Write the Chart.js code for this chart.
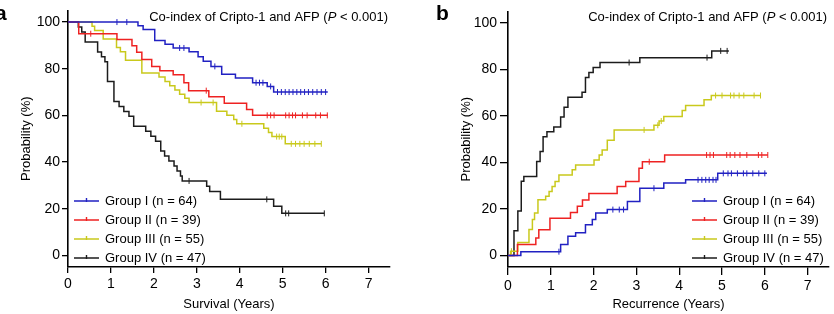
<!DOCTYPE html>
<html>
<head>
<meta charset="utf-8">
<script src="https://cdn.jsdelivr.net/npm/chart.js@4.4.1/dist/chart.umd.min.js"></script>
<style>
  html, body { margin: 0; padding: 0; background: #fff; overflow: hidden; }
  #wrap { position: relative; width: 834px; height: 314px; }
  canvas { position: absolute; top: 0; }
</style>
</head>
<body>
<div id="wrap">
  <canvas id="survA" width="414" height="314" style="left:0"></canvas>
  <canvas id="recurB" width="420" height="314" style="left:414px"></canvas>
</div>
<script>
// Kaplan-Meier curves, co-index of Cripto-1 and AFP
const FONT = '"Liberation Sans", Arial, sans-serif';

const groupLabels = ['Group I (n = 64)', 'Group II (n = 39)', 'Group III (n = 55)', 'Group IV (n = 47)'];
const groupColors = ['#2121c2', '#ee2222', '#c9c91c', '#1c1c1c'];
const xTicks = [0, 1, 2, 3, 4, 5, 6, 7];
const yTicks = [0, 20, 40, 60, 80, 100];

// panel a: overall survival, time of each step (years) and probability after it (%)
const survTimeI = [0, 1.63, 1.75, 2.02, 2.26, 2.45, 2.82, 3.03, 3.15, 3.33, 3.58, 3.9, 4.3, 4.64, 4.79, 6.05];
const survProbI = [100, 98.4, 96.8, 92.1, 90.5, 88.9, 87.3, 85.1, 83.2, 81.0, 77.6, 76.0, 74.0, 72.4, 70.0, 70.0];
const survCensI = [1.14, 1.37, 2.6, 2.7, 3.42, 4.38, 4.46, 4.54, 4.72, 4.88, 4.97, 5.06, 5.15, 5.24, 5.33, 5.42, 5.51, 5.6, 5.7, 5.8, 5.9, 6.0];

const survTimeII = [0, 0.25, 1.14, 1.49, 1.6, 1.72, 1.95, 2.14, 2.45, 2.7, 2.81, 3.28, 3.64, 4.16, 4.3, 6.05];
const survProbII = [100, 95.0, 92.5, 89.8, 87.1, 84.0, 81.0, 79.1, 77.4, 74.0, 70.6, 68.0, 65.2, 62.5, 60.0, 60.0];
const survCensII = [0.53, 3.22, 4.64, 4.72, 4.8, 5.07, 5.15, 5.23, 5.3, 5.46, 5.57, 5.77, 5.88, 6.04];

const survTimeIII = [0, 0.56, 0.62, 0.82, 1.13, 1.22, 1.34, 1.72, 2.12, 2.26, 2.37, 2.49, 2.6, 2.72, 2.82, 3.46, 3.7, 3.86, 3.93, 4.56, 4.67, 4.75, 5.06, 5.9];
const survProbIII = [100, 98.2, 96.4, 92.7, 89.1, 87.3, 83.6, 78.2, 76.4, 74.5, 72.7, 70.9, 69.1, 67.3, 65.5, 61.8, 60.0, 58.2, 56.4, 54.5, 52.7, 50.9, 47.8, 47.8];
const survCensIII = [3.1, 3.38, 4.05, 4.86, 4.92, 4.98, 5.2, 5.3, 5.4, 5.5, 5.62, 5.75, 5.9];

const survTimeIV = [0, 0.24, 0.32, 0.4, 0.69, 0.78, 0.86, 0.92, 1.07, 1.19, 1.3, 1.42, 1.53, 1.81, 1.93, 2.04, 2.16, 2.25, 2.35, 2.47, 2.54, 2.62, 2.66, 3.23, 3.3, 3.55, 4.79, 4.98, 5.97];
const survProbIV = [100, 97.9, 95.7, 91.5, 87.2, 85.1, 83.0, 74.5, 66.0, 63.8, 61.7, 59.6, 55.3, 53.2, 51.1, 48.9, 44.7, 42.6, 40.4, 38.3, 36.2, 34.0, 31.9, 29.6, 27.4, 24.0, 21.0, 18.0, 18.0];
const survCensIV = [2.82, 4.63, 5.07, 5.14, 5.97];

// panel b: cumulative recurrence
const recTimeI = [0, 0.3, 1.23, 1.4, 1.58, 1.81, 1.97, 2.05, 2.32, 2.79, 3.08, 3.64, 4.15, 4.9, 6.05];
const recProbI = [0, 1.6, 4.7, 8.2, 9.7, 13.2, 15.4, 18.2, 19.7, 23.2, 28.9, 31.1, 32.5, 35.3, 35.3];
const recCensI = [1.19, 2.45, 2.6, 2.7, 3.41, 4.44, 4.53, 4.62, 4.7, 4.79, 4.86, 5.03, 5.14, 5.22, 5.36, 5.5, 5.58, 5.72, 5.86, 6.0];

const recTimeII = [0, 0.22, 0.65, 0.72, 0.98, 1.46, 1.62, 1.74, 1.89, 2.55, 2.75, 3.06, 3.14, 3.66, 6.07];
const recProbII = [0, 4.7, 7.5, 11.0, 16.0, 18.5, 21.1, 23.8, 26.6, 29.6, 31.8, 37.5, 40.3, 43.2, 43.2];
const recCensII = [3.3, 4.64, 4.72, 4.8, 5.11, 5.19, 5.3, 5.42, 5.58, 5.85, 5.93, 6.07];

const recTimeIII = [0, 0.06, 0.23, 0.49, 0.57, 0.62, 0.7, 0.88, 0.96, 1.03, 1.1, 1.19, 1.5, 1.58, 2.01, 2.13, 2.2, 2.32, 2.48, 3.41, 3.53, 3.64, 4.07, 4.15, 4.58, 4.75, 5.9];
const recProbIII = [0, 1.8, 5.5, 11.1, 15.4, 18.2, 23.9, 25.5, 27.5, 29.6, 31.8, 34.6, 36.8, 38.9, 41.0, 43.2, 45.3, 49.6, 54.0, 56.0, 57.8, 59.8, 62.4, 64.5, 67.0, 68.8, 68.8];
const recCensIII = [0.08, 3.18, 3.5, 3.58, 4.85, 5.0, 5.2, 5.28, 5.4, 5.51, 5.75, 5.9];

const recTimeIV = [0, 0.14, 0.23, 0.31, 0.37, 0.67, 0.75, 0.82, 0.91, 1.07, 1.23, 1.31, 1.4, 1.73, 1.81, 1.89, 1.99, 2.15, 3.08, 4.76, 5.16];
const recProbIV = [0, 10.6, 19.1, 31.9, 34.0, 40.4, 44.7, 51.1, 53.2, 55.3, 59.6, 63.8, 68.1, 70.2, 76.6, 78.7, 80.9, 83.0, 85.1, 88.0, 88.0];
const recCensIV = [2.83, 4.65, 4.97, 5.12];

function stepPoints(times, probs) {
  return times.map((t, i) => ({ x: t, y: probs[i] }));
}

// censor marks sit on the curve value in force at that time
function censorPoints(times, probs, cens) {
  return cens.map((c) => {
    let y = probs[0];
    times.forEach((t, i) => { if (t <= c) y = probs[i]; });
    return { x: c, y: y };
  });
}

function buildDatasets(groups) {
  const out = [];
  groups.forEach((g, i) => {
    out.push({
      data: stepPoints(g[0], g[1]),
      showLine: true,
      stepped: true,
      borderColor: groupColors[i],
      borderWidth: 1.5,
      pointRadius: 0,
      fill: false,
    });
    out.push({
      data: censorPoints(g[0], g[1], g[2]),
      showLine: false,
      pointStyle: 'line',
      rotation: 90,
      pointRadius: 3,
      pointBorderWidth: 1,
      pointBorderColor: groupColors[i],
      borderColor: groupColors[i],
    });
  });
  return out;
}

const titleParts = [['Co-index of Cripto-1 and AFP (', false], ['P', true], [' < 0.001)', false]];

const decorPlugin = {
  id: 'decor',
  afterDraw(chart, args, o) {
    const ctx = chart.ctx;
    const area = chart.chartArea;
    ctx.save();
    ctx.fillStyle = '#000';
    ctx.textBaseline = 'alphabetic';
    ctx.textAlign = 'left';
    ctx.font = 'bold 21px ' + FONT;
    ctx.fillText(o.letter, o.letterX, 20);

    // title, with italic P
    let total = 0;
    titleParts.forEach((p) => {
      ctx.font = (p[1] ? 'italic ' : '') + '13px ' + FONT;
      total += ctx.measureText(p[0]).width;
    });
    let x = area.right - 2 - total;
    titleParts.forEach((p) => {
      ctx.font = (p[1] ? 'italic ' : '') + '13px ' + FONT;
      ctx.fillText(p[0], x, 21);
      x += ctx.measureText(p[0]).width;
    });

    // legend
    ctx.font = '13px ' + FONT;
    ctx.textBaseline = 'middle';
    groupLabels.forEach((label, i) => {
      const y = o.legendY + i * 19;
      ctx.strokeStyle = groupColors[i];
      ctx.lineWidth = 1.4;
      ctx.beginPath();
      ctx.moveTo(o.legendX, y);
      ctx.lineTo(o.legendX + 25, y);
      ctx.moveTo(o.legendX + 12.5, y - 3);
      ctx.lineTo(o.legendX + 12.5, y + 1);
      ctx.stroke();
      ctx.fillStyle = '#000';
      ctx.fillText(label, o.legendX + 31, y);
    });
    ctx.restore();
  },
};

function makeChart(id, groups, cfg) {
  const tickFont = { family: FONT, size: 14 };
  return new Chart(document.getElementById(id), {
    type: 'scatter',
    data: { datasets: buildDatasets(groups) },
    options: {
      responsive: false,
      animation: false,
      layout: { padding: { left: 0, right: cfg.padRight, top: 10, bottom: 0 } },
      plugins: {
        legend: { display: false },
        tooltip: { enabled: false },
        decor: { letter: cfg.letter, letterX: cfg.letterX, legendX: cfg.legendX, legendY: 201 },
      },
      scales: {
        x: {
          type: 'linear',
          min: 0,
          max: 7.5,
          afterBuildTicks: (s) => { s.ticks = xTicks.map((v) => ({ value: v })); },
          afterFit: (s) => { s.height = 47; },
          grid: { drawOnChartArea: false, drawTicks: true, tickLength: cfg.tickLen, color: '#000', lineWidth: 1.3 },
          border: { color: '#000', width: 1.6 },
          ticks: { color: '#000', font: tickFont, padding: 3, maxRotation: 0, autoSkip: false },
          title: { display: true, text: cfg.xTitle, color: '#000', font: { family: FONT, size: 13 }, padding: { top: 0, bottom: 2 } },
        },
        y: {
          type: 'linear',
          min: -5,
          max: 105,
          afterBuildTicks: (s) => { s.ticks = yTicks.map((v) => ({ value: v })); },
          afterFit: (s) => { s.width = cfg.yWidth; },
          grid: { drawOnChartArea: false, drawTicks: true, tickLength: cfg.tickLen, color: '#000', lineWidth: 1.3 },
          border: { color: '#000', width: 1.6 },
          ticks: { color: '#000', font: tickFont, padding: cfg.yPad },
          title: { display: true, text: 'Probability (%)', color: '#000', font: { family: FONT, size: 13 }, padding: { top: cfg.yTitlePad, bottom: 0 } },
        },
      },
    },
    plugins: [decorPlugin],
  });
}

makeChart('survA', [
  [survTimeI, survProbI, survCensI],
  [survTimeII, survProbII, survCensII],
  [survTimeIII, survProbIII, survCensIII],
  [survTimeIV, survProbIV, survCensIV],
], { letter: 'a', letterX: -5, legendX: 74, padRight: 24, yWidth: 68, tickLen: 6, yPad: 2, yTitlePad: 19, xTitle: 'Survival (Years)' });

makeChart('recurB', [
  [recTimeI, recProbI, recCensI],
  [recTimeII, recProbII, recCensII],
  [recTimeIII, recProbIII, recCensIII],
  [recTimeIV, recProbIV, recCensIV],
], { letter: 'b', letterX: 22, legendX: 278, padRight: 5, yWidth: 94, tickLen: 8, yPad: 3, yTitlePad: 45, xTitle: 'Recurrence (Years)' });
</script>
</body>
</html>
